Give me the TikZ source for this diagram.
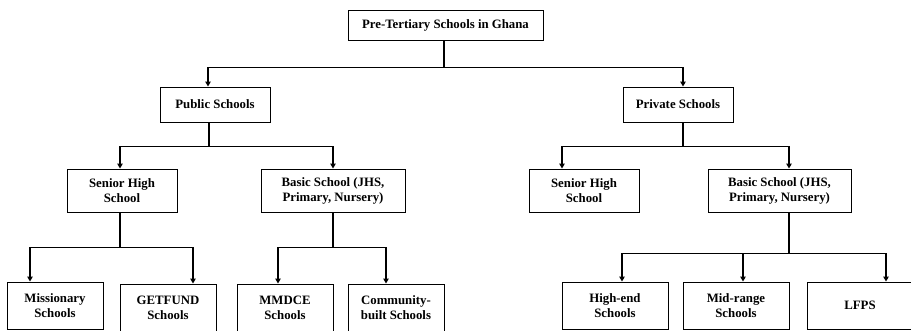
\documentclass[tikz,border=0pt]{standalone}
\usepackage{fontspec}
\setmainfont{Liberation Serif}
\usetikzlibrary{arrows.meta}
\begin{document}
\begin{tikzpicture}[x=1pt,y=-1pt,
  box/.style={draw, line width=1pt, inner sep=0pt, align=center,
    font=\bfseries\fontsize{12.8}{15}\selectfont},
  conn/.style={line width=1.2pt},
  arr/.style={conn, -{Triangle[width=5.5pt,length=5pt]}}]
\useasboundingbox (0,0) rectangle (911,330);
\clip (0,0) rectangle (911,330);
\node[box, minimum width=195pt, minimum height=30pt] (top) at (445.5,25) {Pre-Tertiary Schools in Ghana};
\node[box, minimum width=110pt, minimum height=35pt] (public) at (215,104.5) {Public Schools};
\node[box, minimum width=110pt, minimum height=35pt] (private) at (678,104.5) {Private Schools};
\node[box, minimum width=110pt, minimum height=43pt] (pubshs) at (122,190.5) {Senior High\\School};
\node[box, minimum width=144pt, minimum height=43pt] (pubbasic) at (333,190.5) {Basic School (JHS,\\Primary, Nursery)};
\node[box, minimum width=110pt, minimum height=43pt] (privshs) at (584,190.5) {Senior High\\School};
\node[box, minimum width=143pt, minimum height=43pt] (privbasic) at (779.5,190.5) {Basic School (JHS,\\Primary, Nursery)};
\node[box, minimum width=96pt, minimum height=47pt] (miss) at (55,305.5) {Missionary\\Schools};
\node[box, minimum width=96pt, minimum height=47pt] (getfund) at (168,307.5) {GETFUND\\Schools};
\node[box, minimum width=96pt, minimum height=47pt] (mmdce) at (285,307.5) {MMDCE\\Schools};
\node[box, minimum width=96pt, minimum height=47pt] (comm) at (396,307.5) {Community-\\built Schools};
\node[box, minimum width=106pt, minimum height=47pt] (high) at (615,305.5) {High-end\\Schools};
\node[box, minimum width=106pt, minimum height=47pt] (mid) at (736,305.5) {Mid-range\\Schools};
\node[box, minimum width=106pt, minimum height=47pt] (lfps) at (860,305.5) {LFPS};
% top level
\draw[conn] ([xshift=-1.5pt]top.south) -- ++(0,27) coordinate (j1);
\draw[arr] (j1) -| ([xshift=-7pt]public.north);
\draw[arr] (j1) -| ([xshift=5pt]private.north);
% public
\draw[conn] ([xshift=-6pt]public.south) -- ++(0,24) coordinate (j2);
\draw[arr] (j2) -| ([xshift=-2pt]pubshs.north);
\draw[arr] (j2) -| (pubbasic.north);
% private
\draw[conn] ([xshift=5pt]private.south) -- ++(0,24) coordinate (j3);
\draw[arr] (j3) -| ([xshift=-22pt]privshs.north);
\draw[arr] (j3) -| ([xshift=9.5pt]privbasic.north);
% public SHS
\draw[conn] ([xshift=-2pt]pubshs.south) -- ++(0,35) coordinate (j4);
\draw[arr] (j4) -| ([xshift=-25pt]miss.north);
\draw[arr] (j4) -| ([xshift=25pt]getfund.north);
% public basic
\draw[conn] (pubbasic.south) -- ++(0,35) coordinate (j5);
\draw[arr] (j5) -| ([xshift=-7pt]mmdce.north);
\draw[arr] (j5) -| ([xshift=-10pt]comm.north);
% private basic
\draw[conn] ([xshift=9.5pt]privbasic.south) -- ++(0,41) coordinate (j6);
\draw[arr] (j6) -| ([xshift=7pt]high.north);
\draw[arr] (j6) -| ([xshift=7pt]mid.north);
\draw[arr] (j6) -| ([xshift=26pt]lfps.north);
\end{tikzpicture}
\end{document}
